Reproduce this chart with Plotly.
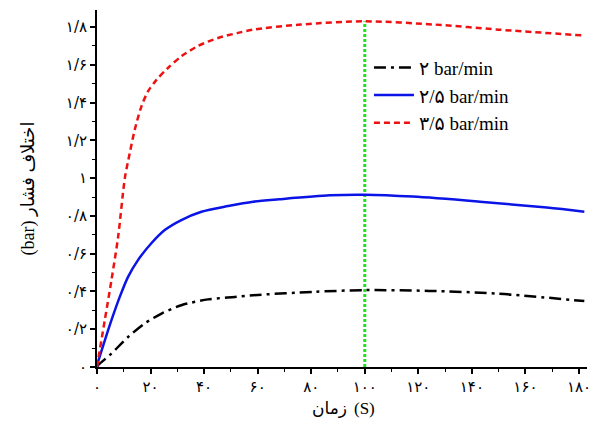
import plotly.graph_objects as go

# ---- data ----
t_black = [0, 0.4, 5.4, 11.6, 17.8, 24.1, 31.5, 41.5, 51.5, 58.3, 81, 100, 124, 149, 182]
p_black = [0, 0.009, 0.071, 0.159, 0.23, 0.283, 0.327, 0.358, 0.371, 0.38, 0.398, 0.407, 0.403, 0.389, 0.349]

t_blue = [0, 0.4, 2.9, 5.4, 8.5, 11.6, 15.3, 20.3, 25.3, 31.5, 39, 49, 58.3, 68, 87, 100, 118, 143, 168, 182]
p_blue = [0, 0.027, 0.14, 0.248, 0.371, 0.477, 0.566, 0.655, 0.725, 0.778, 0.822, 0.852, 0.875, 0.888, 0.909, 0.912, 0.902, 0.875, 0.844, 0.822]

t_red = [0, 0.4, 2.9, 5.4, 7.9, 10.4, 12.2, 14.1, 16.6, 19.1, 22.2, 26.5, 31.5, 37.8, 45.2, 52.7, 58.3, 76, 100, 126, 150, 182]
p_red = [0, 0.036, 0.248, 0.46, 0.69, 1.0, 1.13, 1.256, 1.38, 1.46, 1.52, 1.583, 1.645, 1.70, 1.742, 1.769, 1.786, 1.813, 1.83, 1.813, 1.786, 1.755]

t_marker = [100, 100]
p_marker = [0, 1.83]

names = ["۲ bar/min", "۲/۵ bar/min", "۳/۵ bar/min"]

x_tickvals = [0, 20, 40, 60, 80, 100, 120, 140, 160, 180]
x_ticktext = ["۰", "۲۰", "۴۰", "۶۰", "۸۰", "۱۰۰", "۱۲۰", "۱۴۰", "۱۶۰", "۱۸۰"]
y_tickvals = [0, 0.2, 0.4, 0.6, 0.8, 1.0, 1.2, 1.4, 1.6, 1.8]
y_ticktext = ["۰", "۰/۲", "۰/۴", "۰/۶", "۰/۸", "۱", "۱/۲", "۱/۴", "۱/۶", "۱/۸"]

x_title_word = "زمان"
x_title_unit = "(S)"
y_title = "(bar) اختلاف فشار"

FONT = "'Liberation Serif', 'DejaVu Sans', serif"

fig = go.Figure()
fig.add_trace(go.Scatter(x=t_marker, y=p_marker, mode="lines", showlegend=False,
                         line=dict(color="#22e022", width=3, dash="3px,2px")))
fig.add_trace(go.Scatter(x=t_black, y=p_black, mode="lines", name=names[0],
                         line=dict(color="black", width=2.5, shape="spline", smoothing=0.8,
                                   dash="12px,5px,3px,5px")))
fig.add_trace(go.Scatter(x=t_blue, y=p_blue, mode="lines", name=names[1],
                         line=dict(color="#0a14e6", width=2.5, shape="spline", smoothing=0.8)))
fig.add_trace(go.Scatter(x=t_red, y=p_red, mode="lines", name=names[2],
                         line=dict(color="#ee1111", width=2.5, shape="spline", smoothing=0.8,
                                   dash="6px,4px")))

# x-axis title split in two pieces so the word sits left of the unit, as in the reference
fig.add_annotation(text=x_title_word, xref="paper", yref="paper", x=0.514, y=-0.116,
                   xanchor="right", yanchor="middle", showarrow=False,
                   font=dict(size=17, family=FONT))
fig.add_annotation(text=x_title_unit, xref="paper", yref="paper", x=0.521, y=-0.116,
                   xanchor="left", yanchor="middle", showarrow=False,
                   font=dict(size=17, family=FONT))

fig.update_layout(
    width=606, height=425,
    margin=dict(l=97, r=19, t=10, b=58),
    paper_bgcolor="white", plot_bgcolor="white",
    font=dict(family=FONT, color="black", size=15),
    legend=dict(x=0.555, y=0.892, xanchor="left", yanchor="top",
                bgcolor="rgba(0,0,0,0)", font=dict(size=19, family=FONT),
                tracegroupgap=0, itemwidth=40),
    xaxis=dict(range=[0, 183], tickvals=x_tickvals, ticktext=x_ticktext, automargin=False,
               showgrid=False, zeroline=False, showline=True, linecolor="black", linewidth=2,
               ticks="outside", ticklen=5, tickwidth=1.5, tickcolor="black",
               minor=dict(dtick=10, tick0=0, ticks="outside", ticklen=3, tickwidth=1.2, tickcolor="black"),
               tickfont=dict(size=15, family="DejaVu Sans")),
    yaxis=dict(range=[0, 1.89], tickvals=y_tickvals, ticktext=y_ticktext, automargin=False,
               showgrid=False, zeroline=False, showline=True, linecolor="black", linewidth=2,
               ticks="outside", ticklen=5, tickwidth=1.5, tickcolor="black",
               minor=dict(dtick=0.1, tick0=0, ticks="outside", ticklen=3, tickwidth=1.2, tickcolor="black"),
               tickfont=dict(size=15, family="DejaVu Sans"),
               title=dict(text=y_title, font=dict(size=18, family=FONT), standoff=27)),
)

fig.write_html("out.html")
